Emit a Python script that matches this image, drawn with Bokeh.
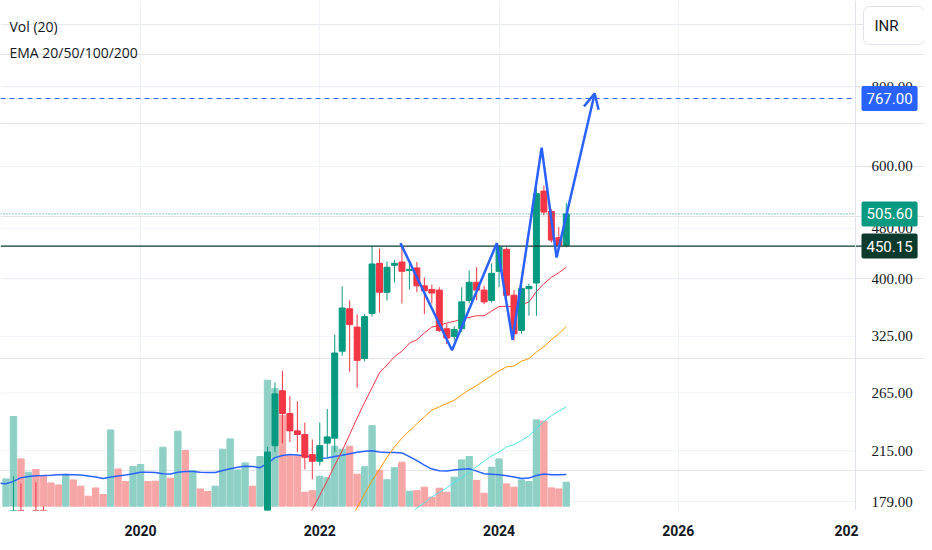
import math
from bokeh.plotting import figure
from bokeh.models import (Range1d, LinearScale, FixedTicker, Label, Span, Arrow, OpenHead,
                          ColumnDataSource)
from bokeh.embed import file_html
from bokeh.resources import INLINE

# ------------------------------------------------------------------ data
# monthly candles (only the months whose prices reach the visible range)
candle_dates = ["2018-08", "2018-09", "2018-11", "2018-12",
                "2021-06", "2021-07", "2021-08", "2021-09", "2021-10", "2021-11", "2021-12",
                "2022-01", "2022-02", "2022-03", "2022-04", "2022-05", "2022-06", "2022-07",
                "2022-08", "2022-09", "2022-10", "2022-11", "2022-12",
                "2023-01", "2023-02", "2023-03", "2023-04", "2023-05", "2023-06", "2023-07",
                "2023-08", "2023-09", "2023-10", "2023-11", "2023-12",
                "2024-01", "2024-02", "2024-03", "2024-04", "2024-05", "2024-06", "2024-07",
                "2024-08", "2024-09", "2024-10"]
candle_open = [158, 168, 165, 155,
               160, 219, 267, 246, 231, 228, 212,
               207, 221, 225, 308, 359, 336, 300, 353, 423, 381, 420, 425,
               412, 416, 390, 385, 384, 334, 325, 334, 370, 395, 384, 370,
               411, 445, 377, 332, 386, 394, 549, 510, 464, 451]
candle_high = [196, 191, 192, 176,
               218, 275, 287, 262, 257, 238, 224,
               238, 250, 327, 389, 370, 352, 352, 451, 446, 426, 428, 452,
               422, 425, 402, 392, 388, 340, 337, 388, 412, 417, 390, 423,
               452, 448, 384, 396, 393, 565, 560, 514, 482, 526]
candle_low = [150, 150, 150, 145,
              155, 214, 221, 222, 214, 201, 194,
              204, 210, 214, 303, 286, 270, 297, 349, 354, 370, 395, 366,
              385, 381, 352, 366, 330, 316, 320, 330, 366, 370, 365, 367,
              388, 375, 320, 328, 350, 350, 503, 456, 448, 448]
candle_close = [168, 158, 155, 150,
                214, 264, 246, 231, 228, 210, 207,
                219, 226, 306, 360, 339, 298, 349, 422, 381, 417, 423, 411,
                414, 390, 383, 380, 332, 323, 333, 368, 395, 384, 368, 408,
                448, 377, 328, 386, 389, 544, 509, 460, 451, 505.6]

# monthly volume (millions), 2018-07 .. 2024-10, and bar direction
vol_start = "2018-07"
volume = [2.73, 8.97, 4.73, 3.40, 3.67, 2.97,
          2.33, 2.13, 3.07, 2.63, 2.00, 1.00, 1.83, 1.17, 7.63, 3.73, 2.47, 3.97,
          4.17, 2.47, 2.50, 5.90, 2.80, 7.50, 5.57, 3.57, 1.73, 1.47, 2.00, 5.70,
          6.73, 3.63, 4.33, 2.00, 4.97, 12.60, 11.75, 9.10, 5.05, 5.05, 1.40, 1.55,
          3.00, 2.85, 6.00, 5.70, 6.00, 3.20, 3.95, 8.05, 3.60, 2.65, 3.85, 4.40,
          1.50, 1.55, 1.90, 0.90, 1.80, 1.40, 2.90, 4.63, 4.97, 2.57, 1.30, 3.90,
          4.73, 2.23, 1.90, 2.63, 2.47, 8.63, 8.50, 1.83, 1.73, 2.40]
vol_up = [1, 1, 0, 1, 0, 0,
          0, 0, 1, 0, 0, 0, 0, 0, 1, 0, 0, 1,
          1, 0, 0, 1, 0, 1, 0, 1, 0, 0, 1, 1,
          1, 1, 1, 0, 1, 1, 1, 0, 0, 0, 0, 0,
          1, 1, 1, 1, 0, 0, 1, 1, 0, 1, 1, 0,
          1, 0, 0, 0, 0, 0, 1, 1, 1, 0, 0, 1,
          1, 0, 0, 1, 1, 1, 0, 0, 0, 1]

# Vol (20) moving average, 2018-06 .. 2024-10
volma_start = "2018-06"
vol_ma = [2.30, 2.25, 2.48, 2.85, 2.96, 3.05, 3.07,
          3.10, 3.14, 3.17, 3.15, 3.11, 3.03, 2.91, 2.76, 2.91, 3.02, 3.12, 3.25,
          3.40, 3.40, 3.37, 3.24, 3.23, 3.39, 3.47, 3.48, 3.40, 3.37, 3.38, 3.56,
          3.74, 3.90, 3.99, 3.97, 3.85, 4.27, 4.86, 5.07, 5.17, 5.12, 5.05, 4.92,
          4.80, 4.81, 4.96, 5.10, 5.25, 5.40, 5.49, 5.54, 5.41, 5.36, 5.38, 5.33,
          4.96, 4.55, 4.10, 3.71, 3.55, 3.51, 3.63, 3.69, 3.74, 3.51, 3.24, 3.20,
          3.14, 3.05, 2.92, 2.77, 2.81, 3.07, 3.23, 3.14, 3.15, 3.17]

# EMAs (visible parts)
ema20_start = "2021-11"
ema20 = [165, 174, 183, 193, 204, 215, 228, 242, 256, 270, 285, 293, 302, 308,
         317, 321, 329, 336, 338, 341, 343, 346, 348, 350, 350, 356,
         362, 362, 362, 364, 368, 382, 393, 402, 409, 417]
ema50_start = "2022-05"
ema50 = [168, 175, 184, 193, 201, 210, 218, 225,
         231, 237, 243, 249, 252, 255, 258, 263, 268, 272, 277, 282,
         287, 291, 292, 297, 300, 307, 313, 321, 328, 337]
ema100_start = "2023-01"
ema100 = [170, 175, 178, 182, 185, 188, 192, 195, 199, 203, 207, 211,
          214, 218, 220, 223, 227, 233, 239, 244, 248, 252]

# drawn pattern (zigzag + arrow) anchor points: month index from 2020-01, price
zz_m = [34.8, 41.7, 47.7, 49.8, 53.7, 55.7]
zz_p = [455, 309, 455, 321, 642, 432]
target_m, target_p = 60.8, 781

# horizontal price levels
level_target = 767.00
level_last = 505.60
level_neck = 450.15

# axis ticks
price_ticks = [179, 215, 265, 325, 400, 480, 600, 800]
grid_prices = price_ticks + [1000]
year_ticks = {0: "2020", 24: "2022", 48: "2024", 72: "2026"}
edge_year_label = "202"          # 2028, cut off by the price scale

# ------------------------------------------------------------------ helpers
def month_index(s):
    y, m = s.split("-")
    return (int(y) - 2020) * 12 + int(m) - 1

# layout mapping (page pixels)
X0, PXM = 140.0, 7.47            # x of 2020-01, px per month
Y400, PXL = 278.3, 277.0         # y of price 400, px per ln-unit
SCALE_X = 855                    # left edge of the price scale
W, H, FRAME_H = 924, 542, 510

def mx(px):
    return (px - X0) / PXM

def py(pxy):
    return 400.0 * math.exp((Y400 - pxy) / PXL)

UP, DN = "#089981", "#f23645"
VUP, VDN = "#8fd0c6", "#f7a6a6"
TXT = "#131722"
GRID = "#f0f3fa"
FONT = "Roboto"

# ------------------------------------------------------------------ figure
p = figure(width=W, height=H, y_axis_type="log", y_axis_location=None,
           x_range=Range1d(mx(0), mx(W)), y_range=Range1d(py(FRAME_H), py(0)),
           toolbar_location=None, output_backend="svg",
           min_border_left=0, min_border_top=0, min_border_right=0, min_border_bottom=H - FRAME_H,
           background_fill_color="white", border_fill_color="white")
p.outline_line_color = None

p.extra_y_ranges = {"vol": Range1d(-0.43, (FRAME_H - 4.3) / 10.0)}
p.extra_y_scales = {"vol": LinearScale()}

# vertical grid (years)
p.xgrid.ticker = FixedTicker(ticks=list(year_ticks.keys()))
p.xgrid.grid_line_color = GRID

# horizontal grid, only over the chart pane
p.segment(x0=[mx(0)] * len(grid_prices), x1=[mx(SCALE_X)] * len(grid_prices),
          y0=grid_prices, y1=grid_prices, color=GRID, line_width=1)

# time axis
xt = dict(year_ticks)
xt[mx(846)] = edge_year_label
p.xaxis.ticker = FixedTicker(ticks=list(xt.keys()))
p.xaxis.major_label_overrides = xt
p.xaxis.major_tick_line_color = None
p.xaxis.minor_tick_line_color = None
p.xaxis.axis_line_color = None
p.xaxis.major_label_standoff = 8
p.xaxis.major_label_text_font = FONT
p.xaxis.major_label_text_font_style = "bold"
p.xaxis.major_label_text_font_size = "14px"
p.xaxis.major_label_text_color = TXT

# price scale separator
p.add_layout(Span(location=mx(SCALE_X), dimension="height", line_color="#e0e3eb", line_width=1))

# volume
v0 = month_index(vol_start)
vsrc = ColumnDataSource(dict(x=[v0 + i for i in range(len(volume))], top=volume,
                             color=[VUP if u else VDN for u in vol_up]))
p.vbar(x="x", top="top", bottom=0, width=0.85, color="color", source=vsrc, y_range_name="vol")
m0 = month_index(volma_start)
p.line([m0 + i for i in range(len(vol_ma))], vol_ma, color="#2962ff", line_width=1.5,
       y_range_name="vol")

# EMAs
for start, vals, col in [(ema100_start, ema100, "#52e5e7"), (ema50_start, ema50, "#ff9800"),
                         (ema20_start, ema20, "#f23645")]:
    s = month_index(start)
    p.line([s + i for i in range(len(vals))], vals, color=col, line_width=1)

# candles
cm = [month_index(d) for d in candle_dates]
ccol = [UP if c >= o else DN for o, c in zip(candle_open, candle_close)]
csrc = ColumnDataSource(dict(x=cm, h=candle_high, l=candle_low,
                             top=[max(o, c) for o, c in zip(candle_open, candle_close)],
                             bot=[min(o, c) for o, c in zip(candle_open, candle_close)],
                             color=ccol))
p.segment(x0="x", y0="l", x1="x", y1="h", color="color", line_width=1, source=csrc)
p.vbar(x="x", top="top", bottom="bot", width=0.8, color="color", source=csrc)

# price levels (chart pane only)
p.line([mx(0), mx(SCALE_X)], [level_target] * 2, color="#2962ff", line_width=1, line_dash="5 4")
p.line([mx(0), mx(SCALE_X)], [level_last] * 2, color=UP, line_width=1, line_dash="1 2")
p.line([mx(0), mx(862)], [level_neck] * 2, color="#0c3b2e", line_width=1.2)

# drawn zigzag + arrow
p.line(zz_m + [target_m], zz_p + [target_p], color="#2962ff", line_width=2.5)
p.add_layout(Arrow(end=OpenHead(size=15, line_color="#2962ff", line_width=2.5),
                   x_start=zz_m[-1], y_start=zz_p[-1], x_end=target_m, y_end=target_p,
                   line_color="#2962ff", line_width=0))

# price scale labels
p.text(x=[mx(871)] * len(price_ticks), y=price_ticks, text=[f"{t:.2f}" for t in price_ticks],
       text_font=FONT, text_font_size="15px", text_color=TXT,
       text_align="left", text_baseline="middle")

# price boxes on the scale
for val, col in [(level_target, "#2962ff"), (level_last, UP), (level_neck, "#0c3b2e")]:
    p.add_layout(Label(x=mx(861), y=val, text=f"{val:.2f}", text_color="white",
                       text_font=FONT, text_font_size="15px", text_align="left",
                       text_baseline="middle", background_fill_color=col,
                       border_radius=2, padding=dict(left=5, right=5, top=7, bottom=7)))

# currency box
p.add_layout(Label(x=mx(863), y=py(25), text="INR", text_color=TXT, text_font=FONT,
                   text_font_size="15px", text_align="left", text_baseline="middle",
                   background_fill_color="white", border_line_color="#e0e3eb",
                   border_radius=6, padding=dict(left=11, right=26, top=10, bottom=10)))

# indicator legend
p.add_layout(Label(x=mx(9), y=py(26), text="Vol (20)", text_color=TXT,
                   text_font="Open Sans", text_font_size="14px", text_baseline="middle"))
p.add_layout(Label(x=mx(9), y=py(51.5), text="EMA 20/50/100/200", text_color=TXT,
                   text_font="Open Sans", text_font_size="14px", text_baseline="middle"))

open("out.html", "w").write(file_html(p, INLINE))
